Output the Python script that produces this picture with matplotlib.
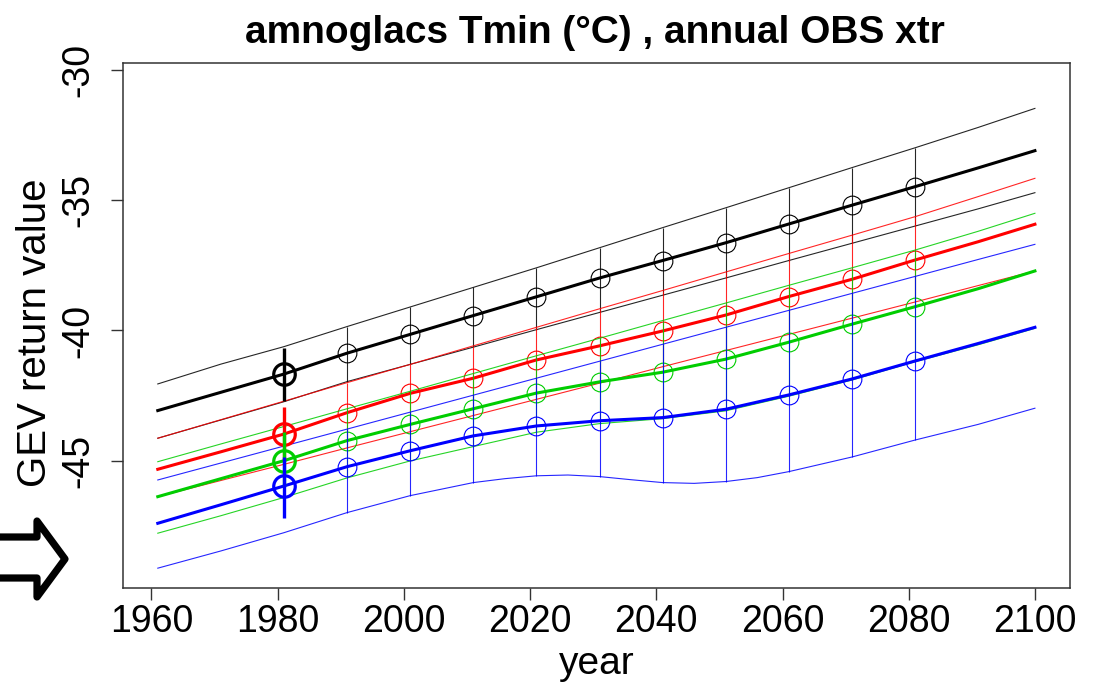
import matplotlib
matplotlib.use("Agg")
import matplotlib.pyplot as plt
from matplotlib.patches import Polygon

plt.rcParams['font.family'] = ['Liberation Sans', 'DejaVu Sans']
plt.rcParams['axes.unicode_minus'] = False

# node years of the fitted curves
years = [1961, 1971, 1981, 1991, 2001, 2011, 2021, 2031, 2041, 2051, 2061, 2071, 2081, 2091, 2100]
# decades where circles + CI segments are drawn
dec_years = [1991, 2001, 2011, 2021, 2031, 2041, 2051, 2061, 2071, 2081]

# black
blk_mid = [-43.07, -42.37, -41.67, -40.87, -40.15, -39.43, -38.71, -37.99, -37.32, -36.64, -35.92, -35.20, -34.49, -33.77, -33.11]
blk_hi = [-42.05, -41.29, -40.62, -39.85, -39.10, -38.35, -37.60, -36.83, -36.06, -35.30, -34.53, -33.76, -33.00, -32.22, -31.49]
blk_lo = [-44.13, -43.43, -42.73, -41.96, -41.30, -40.64, -39.97, -39.31, -38.65, -37.99, -37.32, -36.66, -36.00, -35.34, -34.72]
# red
red_mid = [-45.32, -44.65, -43.97, -43.15, -42.41, -41.83, -41.13, -40.59, -40.02, -39.41, -38.70, -38.04, -37.30, -36.60, -35.93]
red_hi = [-44.13, -43.42, -42.71, -42.00, -41.30, -40.59, -39.88, -39.17, -38.47, -37.76, -37.05, -36.35, -35.64, -34.87, -34.17]
red_lo = [-46.37, -45.75, -45.13, -44.50, -43.88, -43.26, -42.64, -42.02, -41.39, -40.77, -40.15, -39.53, -38.91, -38.28, -37.72]
# green
grn_mid = [-46.37, -45.68, -44.99, -44.22, -43.60, -43.00, -42.40, -41.97, -41.60, -41.10, -40.45, -39.76, -39.09, -38.40, -37.72]
grn_hi = [-45.03, -44.35, -43.68, -43.00, -42.33, -41.65, -40.97, -40.30, -39.62, -38.95, -38.27, -37.60, -36.92, -36.20, -35.51]
grn_lo = [-47.77, -47.10, -46.40, -45.65, -45.00, -44.45, -43.90, -43.57, -43.38, -43.08, -42.52, -41.90, -41.20, -40.55, -39.92]
# blue
blu_mid = [-47.39, -46.68, -45.96, -45.22, -44.61, -44.04, -43.66, -43.46, -43.34, -43.02, -42.47, -41.86, -41.17, -40.50, -39.88]
blu_hi = [-45.73, -45.08, -44.43, -43.78, -43.13, -42.48, -41.83, -41.18, -40.53, -39.88, -39.23, -38.58, -37.93, -37.28, -36.70]
# lower blue bound bends, so it gets more nodes
blu_lo_years = [1961, 1971, 1981, 1991, 2001, 2011, 2016, 2021, 2026, 2031, 2036, 2041, 2046, 2051, 2056, 2061, 2071, 2081, 2091, 2100]
blu_lo = [-49.11, -48.45, -47.75, -46.98, -46.33, -45.83, -45.68, -45.57, -45.54, -45.60, -45.72, -45.83, -45.86, -45.79, -45.64, -45.41, -44.85, -44.20, -43.60, -42.98]

# observed (1981) estimates with their intervals
obs_year = 1981
obs_mid = [-41.67, -43.97, -44.99, -45.96]
obs_hi = [-40.67, -42.93, -43.90, -44.84]
obs_lo = [-42.72, -45.00, -46.00, -47.20]

colors = ['black', '#FF0000', '#00CD00', '#0000FF']
mids = [blk_mid, red_mid, grn_mid, blu_mid]
his = [blk_hi, red_hi, grn_hi, blu_hi]
los = [(years, blk_lo), (years, red_lo), (years, grn_lo), (blu_lo_years, blu_lo)]

W, H = 1097, 688
fig = plt.figure(figsize=(W / 100, H / 100), dpi=100)
ax = fig.add_axes([122.7 / W, 1 - 588 / H, (1070 - 122.7) / W, (588 - 63) / H])

for c, mid, hi, (lo_x, lo) in zip(colors, mids, his, los):
    ax.plot(years, hi, color=c, lw=0.8, alpha=0.85)
    ax.plot(lo_x, lo, color=c, lw=0.8, alpha=0.85)
    idx = [years.index(y) for y in dec_years]
    lo_idx = [lo_x.index(y) for y in dec_years]
    ax.vlines(dec_years, [lo[i] for i in lo_idx], [hi[i] for i in idx], color=c, lw=0.8, alpha=0.85)
    ax.plot(years, mid, color=c, lw=2.2)
    ax.plot(dec_years, [mid[i] for i in idx], 'o', ms=13.5, mfc='none', mec=c, mew=0.8)

for c, m, h, l in zip(colors, obs_mid, obs_hi, obs_lo):
    ax.vlines([obs_year], [l], [h], color=c, lw=2.4)
    ax.plot([obs_year], [m], 'o', ms=15.5, mfc='none', mec=c, mew=2.3)

ax.set_xlim(1955.44, 2105.56)
ax.set_ylim(-49.87, -29.75)
ax.set_xticks(range(1960, 2101, 20))
ax.set_yticks([-45, -40, -35, -30])
ax.set_yticklabels(['-45', '-40', '-35', '-30'], rotation=90, va='center')
ax.tick_params(direction='out', length=8.6, width=1.0, labelsize=27, color='#333333')
ax.tick_params(axis='x', pad=3)
ax.tick_params(axis='y', pad=10)
for s in ax.spines.values():
    s.set_linewidth(1.1)
    s.set_color('#333333')

fig.text(595 / W, 1 - 33 / H, 'amnoglacs Tmin (°C) , annual OBS xtr', ha='center', va='center',
         fontsize=28, fontweight='bold')
fig.text(597 / W, 1 - 664 / H, 'year', ha='center', va='center', fontsize=28)
fig.text(35 / W, 1 - 333 / H, 'GEV return value', ha='center', va='center', fontsize=29, rotation=90)

# big outlined arrow at the left margin
arrow_px = [(-10, 537), (37, 537), (37, 521), (65, 559), (37, 597), (37, 578), (-10, 578)]
arrow = Polygon([(x / W, 1 - y / H) for x, y in arrow_px], closed=True, fill=False,
                edgecolor='black', lw=5.2, joinstyle='round', transform=fig.transFigure, clip_on=False)
fig.patches.append(arrow)

fig.savefig('out.png', dpi=100)
